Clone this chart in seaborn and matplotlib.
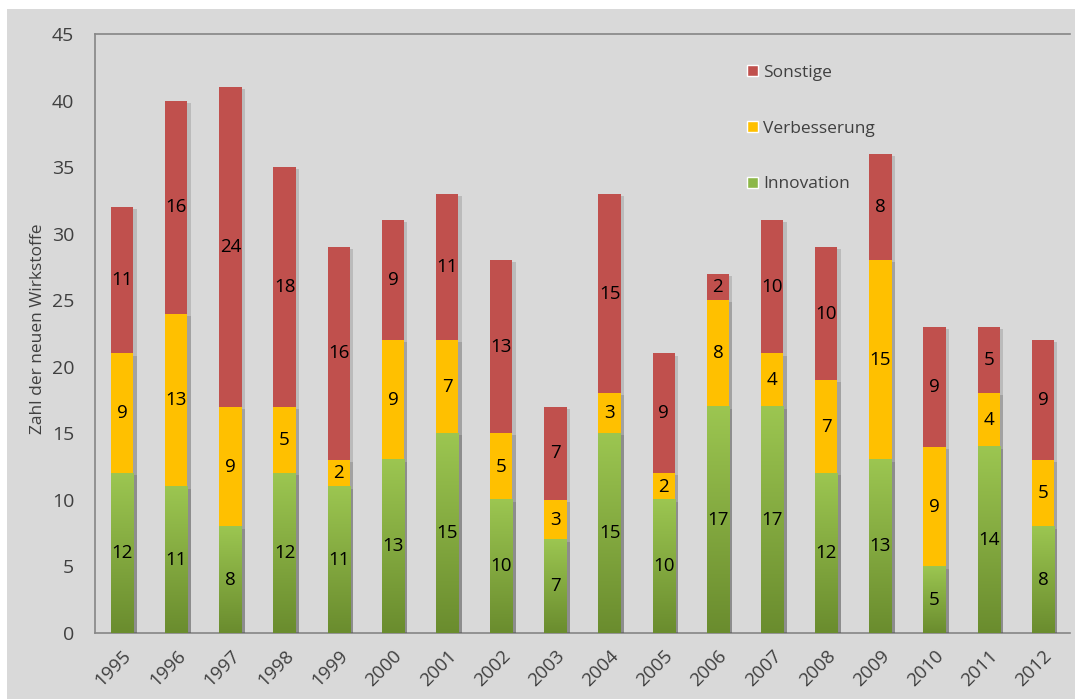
import numpy as np
import pandas as pd
import matplotlib
matplotlib.use("Agg")
import matplotlib.pyplot as plt
import matplotlib.patheffects as pe
from matplotlib.patches import Patch, Rectangle
from matplotlib.colors import LinearSegmentedColormap
import seaborn as sns

years = ["1995", "1996", "1997", "1998", "1999", "2000", "2001", "2002", "2003",
         "2004", "2005", "2006", "2007", "2008", "2009", "2010", "2011", "2012"]
innovation = [12, 11, 8, 12, 11, 13, 15, 10, 7, 15, 10, 17, 17, 12, 13, 5, 14, 8]
verbesserung = [9, 13, 9, 5, 2, 9, 7, 5, 3, 3, 2, 8, 4, 7, 15, 9, 4, 5]
sonstige = [11, 16, 24, 18, 16, 9, 11, 13, 7, 15, 9, 2, 10, 10, 8, 9, 5, 9]

RED = "#C0504D"
YELLOW = "#FFC000"
GREEN = "#8DB849"
BG = "#D9D9D9"
AXC = "#868686"
TXT = "#404040"

sns.set_style("white")
plt.rcParams["font.family"] = ["Open Sans", "DejaVu Sans"]

df = pd.DataFrame({"year": years, "inn": innovation, "ver": verbesserung, "son": sonstige})
df["iv"] = df["inn"] + df["ver"]
df["total"] = df["iv"] + df["son"]

fig = plt.figure(figsize=(10.75, 6.99), dpi=100)
fig.patch.set_facecolor("white")
fig.patches.append(Rectangle((7 / 1075, 0), 1 - 7 / 1075, 1 - 9 / 699,
                             transform=fig.transFigure, facecolor=BG,
                             edgecolor="none", zorder=-10))
ax = fig.add_axes([95 / 1075, 1 - 633 / 699, (1070 - 95) / 1075, (633 - 34) / 699])
ax.set_facecolor(BG)

shadow = [pe.SimplePatchShadow(offset=(2.5, -1.5), alpha=0.18, shadow_rgbFace="#333333"), pe.Normal()]

w = 0.41
sns.barplot(data=df, x="year", y="total", color=RED, saturation=1, width=w, ax=ax, zorder=2)
n_red = len(ax.patches)
sns.barplot(data=df, x="year", y="iv", color=YELLOW, saturation=1, width=w, ax=ax, zorder=3)
sns.barplot(data=df, x="year", y="inn", color=GREEN, saturation=1, width=w, ax=ax, zorder=4)

for p in ax.patches:
    p.set_edgecolor("none")
    p.set_path_effects(shadow)

# gradient for green bars
cmap = LinearSegmentedColormap.from_list("g", ["#6A8C2E", "#9CC651"])
grad = np.linspace(0, 1, 256).reshape(-1, 1)
green_patches = ax.patches[2 * n_red:]
for p in green_patches:
    x0, y0 = p.get_x(), p.get_y()
    ww, hh = p.get_width(), p.get_height()
    ax.imshow(grad, cmap=cmap, origin="lower", aspect="auto",
              extent=(x0, x0 + ww, y0, y0 + hh), zorder=4.5)

ax.set_xlim(-0.5, len(years) - 0.5)
ax.set_ylim(0, 45)
ax.set_yticks(range(0, 46, 5))

# segment labels
for i in range(len(years)):
    segs = [(0, innovation[i]), (innovation[i], verbesserung[i]),
            (innovation[i] + verbesserung[i], sonstige[i])]
    for base, val in segs:
        ax.text(i, base + val / 2, str(val), ha="center", va="center",
                fontsize=13.5, color="black", zorder=6)

for s in ["left", "bottom", "top"]:
    ax.spines[s].set_visible(True)
    ax.spines[s].set_color(AXC)
    ax.spines[s].set_linewidth(1.2)
ax.spines["right"].set_visible(False)

ax.set_xticks(np.arange(len(years)))
ax.set_xticklabels(years, rotation=45, ha="right", rotation_mode="anchor")
ax.tick_params(axis="x", which="major", length=0, labelsize=13.5, labelcolor=TXT, pad=10)
ax.set_xticks(np.arange(len(years) + 1) - 0.5, minor=True)
ax.tick_params(axis="x", which="minor", length=5, color=AXC, width=1.2, direction="out")
ax.tick_params(axis="y", length=5, color=AXC, width=1.2, direction="out",
               labelsize=14, labelcolor=TXT, pad=10)
ax.set_xlabel("")
ax.set_ylabel("Zahl der neuen Wirkstoffe", fontsize=12.5, color=TXT)
ax.yaxis.set_label_coords((38 - 95) / 975, 0.508)
ax.yaxis.label.set_ha("center")
ax.yaxis.label.set_va("center")

handles = [Patch(facecolor=RED, label="Sonstige"),
           Patch(facecolor=YELLOW, label="Verbesserung"),
           Patch(facecolor=GREEN, label="Innovation")]
fig.legend(handles=handles, loc="upper left", bbox_to_anchor=(731 / 1075, 1 - 49 / 699),
           frameon=False, fontsize=12.5, labelcolor=TXT, handlelength=0.65,
           handleheight=0.65, handletextpad=0.3, labelspacing=2.3)

fig.savefig("out.png", dpi=100, facecolor=fig.get_facecolor())
